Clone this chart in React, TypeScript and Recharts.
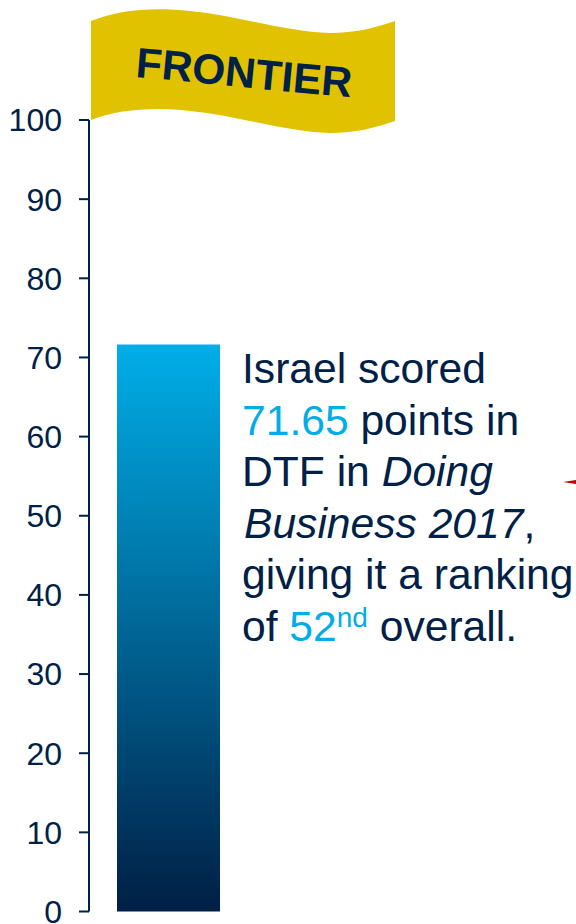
import { BarChart, Bar, XAxis, YAxis } from 'recharts';

const categories = ['Israel'];
const scores = [71.65];
const yTicks = [0, 10, 20, 30, 40, 50, 60, 70, 80, 90, 100];

const data = categories.map((name, i) => ({ name, score: scores[i] }));

const NAVY = '#002147';
const CYAN = '#00ade6';
const FONT = '"Liberation Sans", Arial, sans-serif';

const lineStyle = { position: 'absolute', left: 242, whiteSpace: 'nowrap' } as const;

export default function App() {
  return (
    <div style={{ position: 'absolute', left: 0, top: 0, width: 576, height: 924, overflow: 'hidden', background: '#fff', fontFamily: FONT }}>
      <BarChart
        width={576}
        height={924}
        data={data}
        margin={{ top: 120, right: 328, bottom: 12.5, left: 0 }}
      >
        <defs>
          <linearGradient id="scoreFill" x1="0" y1="0" x2="0" y2="1">
            <stop offset="0%" stopColor="#00aee8" />
            <stop offset="100%" stopColor="#001f45" />
          </linearGradient>
          <path id="flagBaseline" d="M135 77 C 190 81, 250 89, 360 98" fill="none" />
        </defs>
        <XAxis dataKey="name" hide />
        <YAxis
          domain={[0, 100]}
          ticks={yTicks}
          width={89}
          interval={0}
          tickSize={10}
          tickMargin={17}
          tick={{ fontSize: 32, fill: NAVY, fontFamily: FONT }}
          axisLine={{ stroke: NAVY, strokeWidth: 2 }}
          tickLine={{ stroke: NAVY, strokeWidth: 2 }}
        />
        <Bar dataKey="score" fill="url(#scoreFill)" barSize={103} isAnimationActive={false} />
      </BarChart>

      <svg width={576} height={924} style={{ position: 'absolute', left: 0, top: 0 }}>
        <path
          d="M91 21 C 120 9, 155 7, 190 11 C 240 16, 285 32, 330 33 C 355 33, 375 28, 395 21 L 395 121 C 375 128, 355 133, 330 133 C 285 132, 240 116, 190 111 C 155 107, 120 109, 91 120 Z"
          fill="#e0c200"
        />
        <text fontSize={42.4} fontWeight={700} fill={NAVY} fontFamily={FONT}>
          <textPath href="#flagBaseline">FRONTIER</textPath>
        </text>
        <path d="M563 482 L576 480 L576 484 Z" fill="#c00000" />
      </svg>

      <div style={{ fontSize: 42.6, lineHeight: '51.6px', color: NAVY }}>
        <div style={{ ...lineStyle, top: 343 }}>Israel scored</div>
        <div style={{ ...lineStyle, top: 395 }}><span style={{ color: CYAN }}>71.65</span> points in</div>
        <div style={{ ...lineStyle, top: 446 }}>DTF in <i>Doing</i></div>
        <div style={{ ...lineStyle, left: 244, top: 498 }}><i>Business 2017</i>,</div>
        <div style={{ ...lineStyle, top: 549 }}>giving it a ranking</div>
        <div style={{ ...lineStyle, top: 601 }}>
          of <span style={{ color: CYAN }}>52<sup style={{ fontSize: 28, lineHeight: 0, verticalAlign: 14 }}>nd</sup></span> overall.
        </div>
      </div>
    </div>
  );
}
